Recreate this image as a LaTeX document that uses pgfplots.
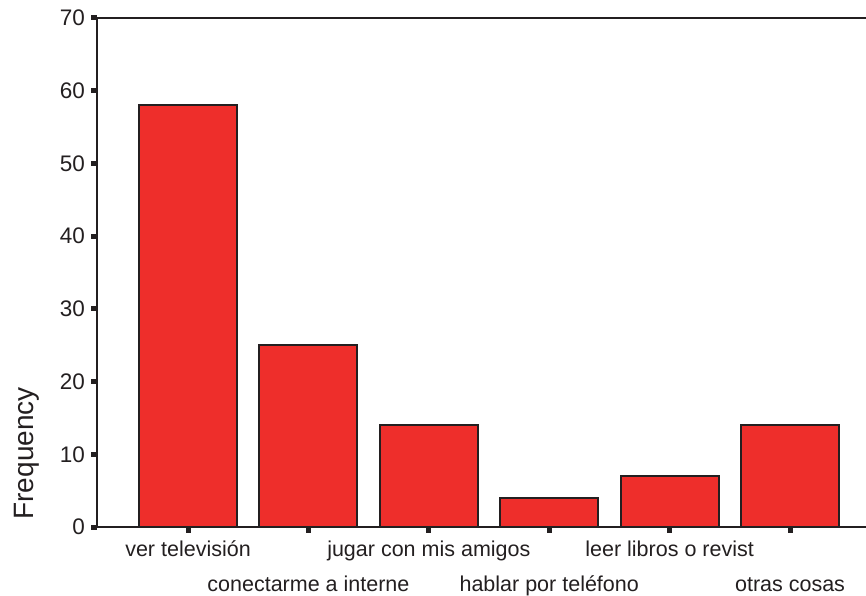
\documentclass[border=0pt]{standalone}
\usepackage{pgfplots}
\pgfplotsset{compat=1.18}
\usepackage{fontspec}
\setmainfont{Liberation Sans}
\definecolor{barred}{HTML}{EE2E2B}
\definecolor{ink}{HTML}{231F20}
\begin{document}
\begin{tikzpicture}
\begin{axis}[
  at={(0,0)}, anchor=south west,
  scale only axis, width=769pt, height=509pt,
  xmin=-0.756, xmax=5.631, ymin=0, ymax=70,
  axis x line*=bottom, axis y line*=left,
  x axis line style={line width=2pt, ink},
  y axis line style={line width=2.5pt, ink},
  ytick={0,10,...,70},
  xtick={0,2,4},
  xticklabels={ver televisión, jugar con mis amigos, leer libros o revist},
  extra x ticks={1,3,5},
  extra x tick labels={conectarme a interne, hablar por teléfono, otras cosas},
  extra x tick style={grid=none, xtick style={line width=5pt, ink}, xticklabel style={yshift=-35pt}},
  tick align=outside,
  major tick length=5.5pt,
  xtick style={line width=5pt, ink},
  ytick style={line width=5pt, ink},
  /pgf/number format/assume math mode=true,
  ticklabel style={font=\fontsize{21.5}{24}\selectfont, text=ink},
  yticklabel style={font=\fontsize{22.5}{24}\selectfont, xshift=-3pt},
  xticklabel style={anchor=base, yshift=-24pt},
  ylabel={Frequency},
  ylabel style={at={(axis description cs:-0.0832,0.0079)}, anchor=base west, font=\fontsize{28}{32}\selectfont, text=ink},
  after end axis/.code={\draw[ink, line width=1.2pt] (rel axis cs:0,1) -- (rel axis cs:1,1);},
]
\addplot[ybar, bar width=98pt, fill=barred, draw=ink, line width=2pt]
  coordinates {(0,58) (1,25) (2,14) (3,4) (4,7) (5,14)};
\end{axis}
\pgfresetboundingbox
\path (-97pt,-68pt) rectangle (769pt,527pt);
\end{tikzpicture}
\end{document}
